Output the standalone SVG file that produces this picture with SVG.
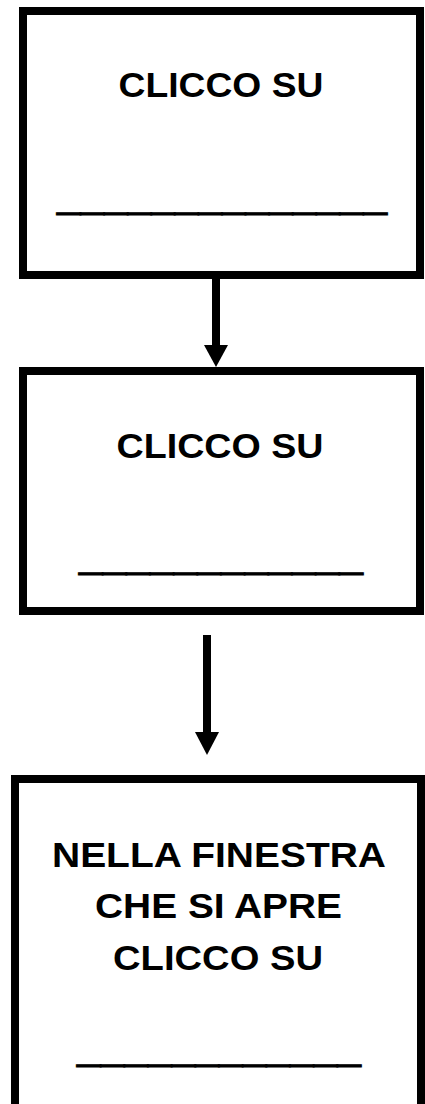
<svg xmlns="http://www.w3.org/2000/svg" width="425" height="1104" viewBox="0 0 425 1104">
<style>
.box{fill:#fff;stroke:#000;stroke-width:8}
.t{font-family:"Comic Sans MS","Liberation Sans",sans-serif;font-weight:bold;font-size:35px;fill:#000;text-anchor:middle}
.u{font-family:"Liberation Sans",sans-serif;font-size:35px;fill:#000;stroke:#000;stroke-width:0.8}
.c{stroke:#000;stroke-width:8;fill:none}
.h{fill:#000}
</style>
<rect width="425" height="1104" fill="#fff"/>
<g id="connectors">
<path d="M216,279 V345" class="c"/>
<path d="M204,345 L228,345 L216,367 Z" class="h"/>
<path d="M207,635 V732" class="c"/>
<path d="M195,732 L219,732 L207,755 Z" class="h"/>
</g>
<g id="node1">
<rect class="box" x="23" y="11" width="397" height="264"/>
<text class="t" x="221" y="97" textLength="205" lengthAdjust="spacingAndGlyphs">CLICCO SU</text>
<text class="u" x="57" y="208" textLength="330" lengthAdjust="spacingAndGlyphs">______________</text>
</g>
<g id="node2">
<rect class="box" x="23" y="371" width="397" height="240"/>
<text class="t" x="220" y="458" textLength="207" lengthAdjust="spacingAndGlyphs">CLICCO SU</text>
<text class="u" x="79" y="568" textLength="284" lengthAdjust="spacingAndGlyphs">____________</text>
</g>
<g id="node3">
<rect class="box" x="15" y="779" width="406" height="330"/>
<text class="t" x="219" y="867" textLength="334" lengthAdjust="spacingAndGlyphs">NELLA FINESTRA</text>
<text class="t" x="218.5" y="918" textLength="247" lengthAdjust="spacingAndGlyphs">CHE SI APRE</text>
<text class="t" x="218" y="970" textLength="210" lengthAdjust="spacingAndGlyphs">CLICCO SU</text>
<text class="u" x="77" y="1060" textLength="284" lengthAdjust="spacingAndGlyphs">____________</text>
</g>
</svg>
